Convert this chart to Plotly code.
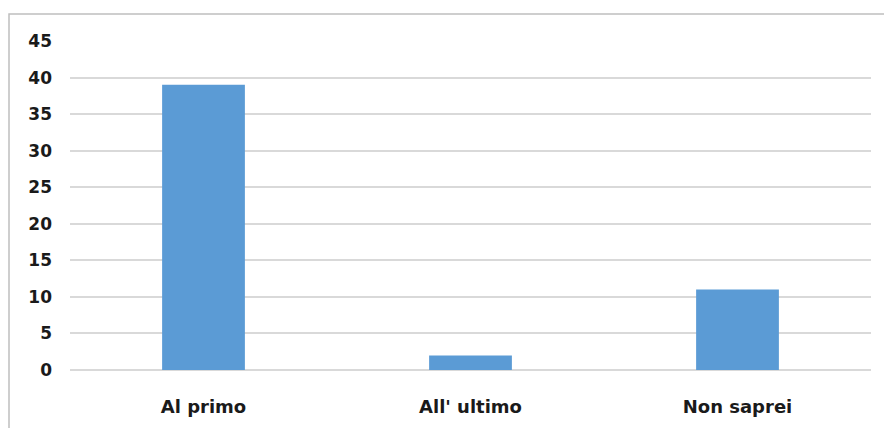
import plotly.graph_objects as go

categories = ["Al primo", "All' ultimo", "Non saprei"]
values = [39, 2, 11]
y_ticks = [0, 5, 10, 15, 20, 25, 30, 35, 40, 45]

# page renders with an 8px body offset; compensate
OFF = 8
W, H = 892, 428
# target plot area in screenshot pixels
PL, PR, PT, PB = 70, 871, 41, 370
ml, mt = PL - OFF, PT - OFF
mr = W - (PR - OFF)
mb = H - (PB - OFF)
pw, ph = PR - PL, PB - PT

def px_x(x):
    return (x - PL) / pw

def px_y(y):
    return (PB - y) / ph

FONT = "DejaVu Sans, Liberation Sans, Arial, sans-serif"

fig = go.Figure(go.Bar(
    x=categories, y=values,
    marker=dict(color="#5b9bd5", line=dict(width=0)),
    width=0.31,
))

fig.update_layout(
    width=W, height=H,
    margin=dict(l=ml, r=mr, t=mt, b=mb, autoexpand=False),
    paper_bgcolor="white", plot_bgcolor="white",
    showlegend=False,
    font=dict(family=FONT, size=17, color="#1a1a1a"),
    shapes=[dict(
        type="rect", xref="paper", yref="paper",
        x0=px_x(9), x1=px_x(910), y0=px_y(445), y1=px_y(14),
        line=dict(color="#bfbfbf", width=1.5), fillcolor="rgba(0,0,0,0)",
        layer="below",
    )],
)
fig.update_xaxes(
    showgrid=False, showline=False, zeroline=False,
    ticks="", ticklabelstandoff=24,
    tickfont=dict(size=18, family=FONT, weight="bold"),
    range=[-0.5, 2.5],
)
fig.update_yaxes(
    range=[0, 45], tickvals=y_ticks,
    showgrid=True, gridcolor="#d9d9d9", gridwidth=1.5,
    zeroline=True, zerolinecolor="#d9d9d9", zerolinewidth=1.5,
    showline=False, ticks="", ticklabelstandoff=17,
    tickfont=dict(size=17, family=FONT, weight="bold"),
)

fig.write_html("out.html")
